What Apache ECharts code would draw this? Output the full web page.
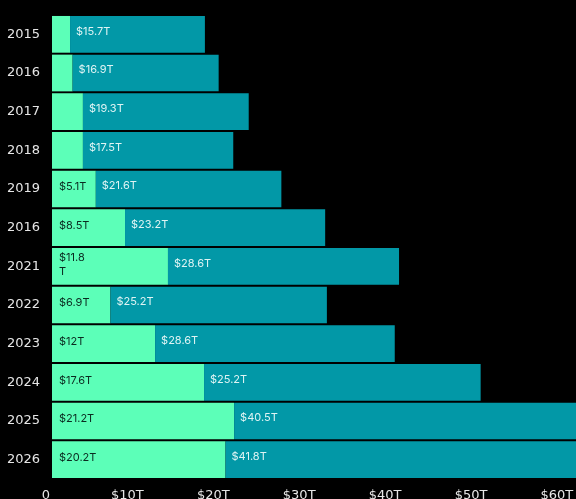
<!DOCTYPE html>
<html>
<head>
<meta charset="utf-8">
<script src="https://cdn.jsdelivr.net/npm/echarts@6/dist/echarts.min.js"></script>
<style>
html,body{margin:0;padding:0;background:#000;overflow:hidden;}
#c{width:576px;height:499px;}
</style>
</head>
<body>
<div id="c"></div>
<script>
var years = ['2015','2016','2017','2018','2019','2016','2021','2022','2023','2024','2025','2026'];
var greenValues = [2.1, 2.4, 3.6, 3.6, 5.1, 8.5, 13.5, 6.8, 12.0, 17.7, 21.2, 20.2];
var tealValues = [15.7, 17.0, 19.3, 17.5, 21.6, 23.3, 26.9, 25.2, 27.9, 32.2, 40.5, 41.8];
var greenLabels = ['', '', '', '', '$5.1T', '$8.5T', '$11.8\nT', '$6.9T', '$12T', '$17.6T', '$21.2T', '$20.2T'];
var tealLabels = ['$15.7T', '$16.9T', '$19.3T', '$17.5T', '$21.6T', '$23.2T', '$28.6T', '$25.2T', '$28.6T', '$25.2T', '$40.5T', '$41.8T'];
var xTickLabels = ['0', '$10T', '$20T', '$30T', '$40T', '$50T', '$60T'];

var axisFont = '"DejaVu Sans", sans-serif';
var labelFont = 'Inter, "Liberation Sans", sans-serif';
var chart = echarts.init(document.getElementById('c'), null, {renderer: 'canvas', width: 576, height: 499});
chart.setOption({
  backgroundColor: '#000000',
  animation: false,
  grid: {left: 52, right: 0, top: 15, bottom: 20, containLabel: false, outerBoundsMode: 'none'},
  xAxis: {
    type: 'value', min: 0, max: 61, interval: 10,
    axisLine: {show: false}, axisTick: {show: false}, splitLine: {show: false},
    axisLabel: {
      color: '#e6e6e6', fontSize: 13, fontFamily: axisFont, margin: 10,
      showMaxLabel: false,
      formatter: function (v, i) {
        var t = xTickLabels[i] !== undefined ? xTickLabels[i] : '';
        return i === 0 ? '{z|' + t + '}' : '{a|' + t + '}';
      },
      rich: {
        z: {color: '#e6e6e6', fontSize: 13, fontFamily: axisFont, padding: [0, 12, 0, 0]},
        a: {color: '#e6e6e6', fontSize: 13, fontFamily: axisFont, padding: [0, 21, 0, 0]}
      }
    }
  },
  yAxis: {
    type: 'category', inverse: true, data: years,
    axisLine: {show: false}, axisTick: {show: false}, splitLine: {show: false},
    axisLabel: {color: '#e6e6e6', fontSize: 13, fontFamily: axisFont, margin: 12}
  },
  series: [
    {
      type: 'bar', stack: 's', data: greenValues, barCategoryGap: '5%',
      itemStyle: {color: '#5cffb8'},
      label: {
        show: true, position: 'insideLeft', distance: 7, offset: [0, -2],
        color: '#0b2b20', fontSize: 11, fontFamily: labelFont, lineHeight: 14,
        formatter: function (p) { return greenLabels[p.dataIndex]; }
      }
    },
    {
      type: 'bar', stack: 's', data: tealValues, barCategoryGap: '5%',
      itemStyle: {color: '#0298a7'},
      label: {
        show: true, position: 'insideLeft', distance: 6, offset: [0, -3],
        color: '#dff4f4', fontSize: 11, fontFamily: labelFont,
        formatter: function (p) { return tealLabels[p.dataIndex]; }
      }
    }
  ]
});
</script>
</body>
</html>
